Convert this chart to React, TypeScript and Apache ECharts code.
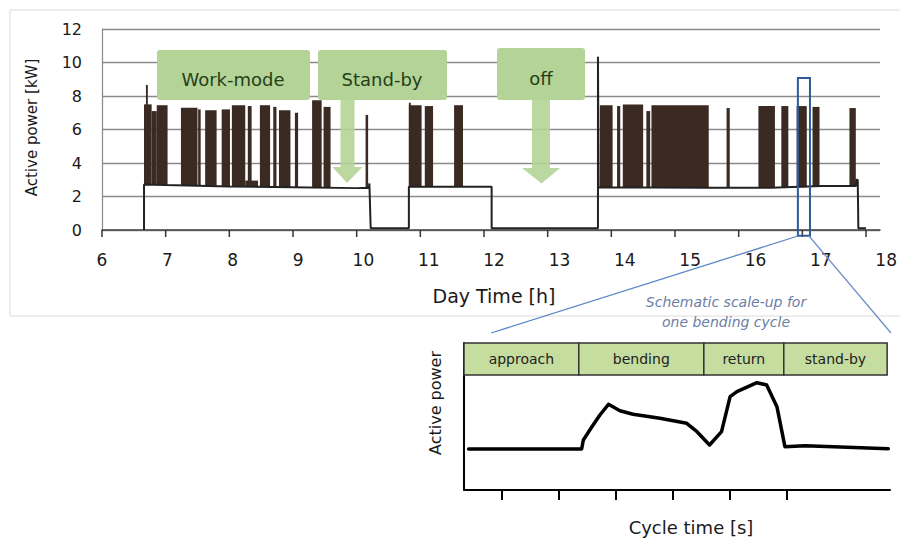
import React, { useEffect, useRef } from "react";
import * as echarts from "echarts";

// ---------- main chart data (Day time [h] / Active power [kW]) ----------
const hourMin = 6;
const hourMax = 18;
const hourTicks = [6, 7, 8, 9, 10, 11, 12, 13, 14, 15, 16, 17, 18];

// baseline trace of the machine
const traceHours = [6.66, 6.66, 7.0, 8.0, 9.0, 10.0, 10.19, 10.2, 10.21, 10.22, 10.82, 10.82, 12.12, 12.12, 13.79, 13.79, 13.8, 15.5, 16.5, 17.3, 17.84, 17.85, 17.87, 17.88, 18.0];
const tracePower = [0, 2.72, 2.68, 2.6, 2.55, 2.5, 2.52, 2.78, 2.78, 0.1, 0.1, 2.58, 2.58, 0.1, 0.1, 10.35, 2.55, 2.52, 2.52, 2.62, 2.62, 3.0, 3.0, 0.1, 0.1];

// work cycles (dense spikes) as blocks
const blockStart = [6.66, 6.69, 6.78, 6.86, 7.24, 7.51, 7.62, 7.88, 8.04, 8.25, 8.29, 8.48, 8.69, 8.78, 9.03, 9.30, 9.48, 10.14, 10.82, 10.82, 11.07, 11.53, 13.82, 14.09, 14.18, 14.55, 14.63, 15.81, 16.31, 16.67, 16.91, 17.16, 17.74];
const blockEnd = [6.78, 6.72, 6.86, 7.03, 7.50, 7.55, 7.80, 8.01, 8.25, 8.45, 8.35, 8.64, 8.74, 8.96, 9.08, 9.45, 9.59, 10.18, 11.02, 10.85, 11.20, 11.67, 14.02, 14.14, 14.50, 14.61, 15.53, 15.86, 16.57, 16.78, 17.07, 17.27, 17.84];
const blockTop = [7.5, 8.66, 7.1, 7.45, 7.3, 7.2, 7.15, 7.2, 7.45, 2.95, 7.4, 7.45, 7.35, 7.15, 7.0, 7.75, 7.35, 6.87, 7.45, 7.6, 7.4, 7.45, 7.45, 7.4, 7.5, 7.1, 7.45, 7.28, 7.4, 7.4, 7.4, 7.35, 7.28];
const blockBase = [2.7, 2.7, 2.7, 2.68, 2.64, 2.63, 2.62, 2.6, 2.6, 2.6, 2.6, 2.58, 2.58, 2.57, 2.56, 2.54, 2.54, 2.51, 2.58, 2.58, 2.58, 2.58, 2.55, 2.55, 2.55, 2.54, 2.53, 2.52, 2.52, 2.52, 2.55, 2.6, 2.62];

// zoomed window (one bending cycle)
const zoomHours = [16.93, 17.12];
const zoomPower = [-0.35, 9.07];

// ---------- inset data (Cycle time [s] / Active power, schematic) ----------
const cycleTicks = [0.66, 1.66, 2.66, 3.66, 4.66, 5.66];
const cycleTime = [0.08, 2.06, 2.09, 2.24, 2.38, 2.53, 2.73, 2.96, 3.43, 3.9, 4.08, 4.3, 4.51, 4.66, 4.78, 5.13, 5.3, 5.48, 5.62, 5.97, 6.47, 7.43];
const cyclePower = [4.1, 4.1, 5.0, 6.33, 7.5, 8.57, 7.93, 7.57, 7.17, 6.67, 5.83, 4.5, 5.83, 9.33, 9.83, 10.73, 10.5, 8.33, 4.33, 4.43, 4.33, 4.13];

const phaseNames = ["approach", "bending", "return", "stand-by"];
const phaseStart = [0, 2.01, 4.2, 5.6];
const phaseEnd = [2.01, 4.2, 5.6, 7.41];

const FONT = '"DejaVu Sans", "Liberation Sans", sans-serif';
const GREEN = "#b4d497";
const GREEN_TEXT = "#24401a";

export default function App() {
  const ref = useRef<HTMLDivElement>(null);

  useEffect(() => {
    if (!ref.current) return;
    const chart = echarts.init(ref.current, undefined, { renderer: "svg" });

    const traceData = traceHours.map((h, i) => [h, tracePower[i]]);
    const blockData = blockStart.map((s, i) => [s, blockEnd[i], blockTop[i], blockBase[i]]);
    const cycleData = cycleTime.map((t, i) => [t, cyclePower[i]]);
    const tickData = hourTicks.map((h) => [h, 0]);
    const HEADER_TOP = 14.7;
    const HEADER_BOTTOM = 11.5;
    const phaseData = phaseStart.map((s, i) => [s, phaseEnd[i], HEADER_BOTTOM, HEADER_TOP]);

    const text = (x: number, y: number, t: string, size: number, fill: string, extra: any = {}) => ({
      type: "text",
      x,
      y,
      z: 100,
      silent: true,
      ...extra,
      style: {
        text: t,
        font: `${extra.fontStyle || "normal"} ${size}px ${FONT}`,
        fill,
        align: "center",
        verticalAlign: "middle",
        textAlign: "center",
        textVerticalAlign: "middle",
      },
    });

    const option: any = {
      animation: false,
      grid: [
        // plot area (gridlines run a little past 18 h)
        { left: 102, top: 29, width: 778, height: 201 },
        // tick labels (slightly stretched, as in the reference)
        { left: 102, top: 29, width: 785, height: 201 },
        // inset
        { left: 464, top: 343, width: 426, height: 147 },
      ],
      xAxis: [
        {
          gridIndex: 0,
          type: "value",
          min: hourMin,
          max: hourMin + (hourMax - hourMin) * 778 / 764,
          axisLine: { lineStyle: { color: "#444", width: 1.5 } },
          axisTick: { show: false },
          axisLabel: { show: false },
          splitLine: { show: false },
        },
        {
          gridIndex: 1,
          type: "value",
          min: hourMin,
          max: hourMax,
          interval: 1,
          axisLine: { show: false },
          axisTick: { show: false },
          splitLine: { show: false },
          axisLabel: { fontSize: 17, color: "#1a1a1a", margin: 21, fontFamily: FONT },
        },
        {
          gridIndex: 2,
          type: "value",
          min: 0,
          max: 7.46,
          axisLine: { lineStyle: { color: "#000", width: 2 } },
          axisTick: { show: true, customValues: cycleTicks, length: 10, lineStyle: { color: "#000", width: 2 } },
          axisLabel: { show: false },
          splitLine: { show: false },
        },
      ],
      yAxis: [
        {
          gridIndex: 0,
          type: "value",
          min: 0,
          max: 12,
          interval: 2,
          axisLine: { show: true, lineStyle: { color: "#888", width: 1.2 } },
          axisTick: { show: false },
          axisLabel: { fontSize: 16, color: "#1a1a1a", margin: 20, fontFamily: FONT },
          splitLine: { show: true, lineStyle: { color: "#8a8a8a", width: 1.3 } },
        },
        { gridIndex: 1, type: "value", min: 0, max: 12, show: false },
        {
          gridIndex: 2,
          type: "value",
          min: 0,
          max: 14.7,
          axisLine: { show: true, lineStyle: { color: "#000", width: 2 } },
          axisTick: { show: false },
          axisLabel: { show: false },
          splitLine: { show: false },
        },
      ],
      series: [
        {
          type: "custom",
          name: "cycles",
          xAxisIndex: 0,
          yAxisIndex: 0,
          z: 3,
          encode: { x: [0, 1], y: [2, 3] },
          data: blockData,
          renderItem: (params: any, api: any) => {
            const p0 = api.coord([api.value(0), api.value(2)]);
            const p1 = api.coord([api.value(1), api.value(3)]);
            return {
              type: "rect",
              shape: { x: p0[0], y: p0[1], width: Math.max(p1[0] - p0[0], 1.6), height: p1[1] - p0[1] },
              style: { fill: "#3b2a22" },
            };
          },
        },
        {
          type: "line",
          name: "trace",
          xAxisIndex: 0,
          yAxisIndex: 0,
          z: 4,
          showSymbol: false,
          data: traceData,
          lineStyle: { color: "#222", width: 2 },
        },
        {
          type: "custom",
          name: "hourTicks",
          xAxisIndex: 0,
          yAxisIndex: 0,
          z: 6,
          clip: false,
          silent: true,
          encode: { x: 0, y: 1 },
          data: tickData,
          renderItem: (params: any, api: any) => {
            const p = api.coord([api.value(0), api.value(1)]);
            return {
              type: "line",
              shape: { x1: p[0], y1: p[1], x2: p[0], y2: p[1] + 7 },
              style: { stroke: "#333", lineWidth: 1.5 },
            };
          },
        },
        {
          type: "custom",
          name: "zoomBox",
          xAxisIndex: 0,
          yAxisIndex: 0,
          z: 6,
          clip: false,
          encode: { x: [0, 1], y: [2, 3] },
          data: [[zoomHours[0], zoomHours[1], zoomPower[0], zoomPower[1]]],
          renderItem: (params: any, api: any) => {
            const p0 = api.coord([api.value(0), api.value(3)]);
            const p1 = api.coord([api.value(1), api.value(2)]);
            return {
              type: "rect",
              shape: { x: p0[0], y: p0[1], width: p1[0] - p0[0], height: p1[1] - p0[1] },
              style: { fill: "none", stroke: "#2f5b9b", lineWidth: 2 },
            };
          },
        },
        {
          type: "custom",
          name: "phases",
          xAxisIndex: 2,
          yAxisIndex: 2,
          z: 5,
          clip: false,
          encode: { x: [0, 1], y: [2, 3] },
          data: phaseData,
          renderItem: (params: any, api: any) => {
            const p0 = api.coord([api.value(0), api.value(3)]);
            const p1 = api.coord([api.value(1), api.value(2)]);
            return {
              type: "group",
              children: [
                {
                  type: "rect",
                  shape: { x: p0[0], y: p0[1], width: p1[0] - p0[0], height: p1[1] - p0[1] },
                  style: { fill: "#c6dda0", stroke: "#333", lineWidth: 1.5 },
                },
                {
                  type: "text",
                  x: (p0[0] + p1[0]) / 2,
                  y: (p0[1] + p1[1]) / 2,
                  style: {
                    text: phaseNames[params.dataIndex],
                    font: `14px ${FONT}`,
                    fill: "#222",
                    align: "center",
                    verticalAlign: "middle",
                  },
                },
              ],
            };
          },
        },
        {
          type: "line",
          name: "cycle",
          xAxisIndex: 2,
          yAxisIndex: 2,
          z: 4,
          showSymbol: false,
          data: cycleData,
          lineStyle: { color: "#000", width: 3.5, join: "round", cap: "round" },
        },
      ],
      graphic: [
        {
          type: "rect",
          z: 0,
          silent: true,
          shape: { x: 10, y: 10, width: 895, height: 306 },
          style: { fill: "none", stroke: "#dcdcdc", lineWidth: 1 },
        },
        // green labels with arrows
        { type: "rect", z: 100, silent: true, shape: { x: 157, y: 50, width: 153, height: 50, r: 3 }, style: { fill: GREEN } },
        { type: "rect", z: 100, silent: true, shape: { x: 318, y: 50, width: 129, height: 50, r: 3 }, style: { fill: GREEN } },
        { type: "rect", z: 100, silent: true, shape: { x: 497, y: 48, width: 88, height: 52, r: 3 }, style: { fill: GREEN } },
        {
          type: "polygon",
          z: 100,
          silent: true,
          shape: { points: [[340.5, 100], [354.5, 100], [354.5, 167], [362.5, 167], [347, 183], [332.5, 167], [340.5, 167]] },
          style: { fill: GREEN, opacity: 0.9 },
        },
        {
          type: "polygon",
          z: 100,
          silent: true,
          shape: { points: [[532, 100], [550, 100], [550, 168], [560, 168], [541.5, 183.5], [522, 168], [532, 168]] },
          style: { fill: GREEN, opacity: 0.9 },
        },
        text(233, 79, "Work-mode", 18, GREEN_TEXT),
        text(382, 79, "Stand-by", 18, GREEN_TEXT),
        text(541, 78, "off", 18, GREEN_TEXT),
        // connector lines to inset
        { type: "line", z: 50, silent: true, shape: { x1: 798, y1: 236, x2: 491, y2: 333 }, style: { stroke: "#5b87c5", lineWidth: 1.3 } },
        { type: "line", z: 50, silent: true, shape: { x1: 809, y1: 236, x2: 891, y2: 333 }, style: { stroke: "#6f8fc8", lineWidth: 1.3 } },
        // titles
        text(32, 127.5, "Active power [kW]", 15, "#1a1a1a", { rotation: Math.PI / 2 }),
        text(494, 296, "Day Time [h]", 19, "#1a1a1a"),
        text(726, 302, "Schematic scale-up for", 14, "#6b7ea6", { fontStyle: "italic" }),
        text(726, 322, "one bending cycle", 14, "#6b7ea6", { fontStyle: "italic" }),
        text(435, 403, "Active power", 16, "#1a1a1a", { rotation: Math.PI / 2 }),
        text(691, 527, "Cycle time [s]", 18, "#1a1a1a"),
      ],
    };

    chart.setOption(option);
    return () => chart.dispose();
  }, []);

  return (
    <div
      ref={ref}
      style={{ position: "fixed", left: 0, top: 0, width: 900, height: 538, background: "#fff" }}
    />
  );
}
